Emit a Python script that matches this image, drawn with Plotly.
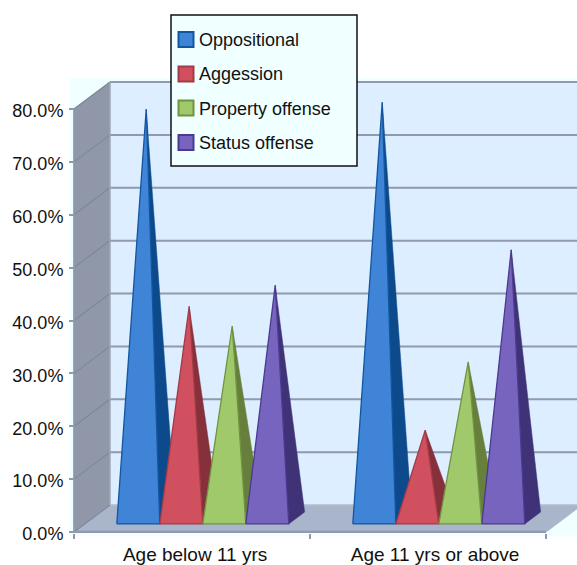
import plotly.graph_objects as go

# ---- data (percent) ----
categories = ["Age below 11 yrs", "Age 11 yrs or above"]
series_names = ["Oppositional", "Aggession", "Property offense", "Status offense"]
oppositional = [77.3, 78.6]
aggression = [40.0, 16.6]
property_offense = [36.3, 29.5]
status_offense = [44.0, 50.7]
y_ticks = [0, 10, 20, 30, 40, 50, 60, 70, 80]
y_labels = ["0.0%", "10.0%", "20.0%", "30.0%", "40.0%", "50.0%", "60.0%", "70.0%", "80.0%"]

# ---- styles ----
face = ["#3F84D6", "#D0505F", "#A0C96B", "#7764BF"]
side = ["#0C4A8C", "#86303B", "#667F3D", "#3F3276"]
edge = ["#12569F", "#A33A47", "#71933F", "#4B3A90"]
GRID = "#9199AE"
WALL = "#DCEEFF"
AZURE = "#F0FFFF"
SIDE_WALL = "#8F97A9"
FLOOR = "#A9B5CA"
FONT = "Liberation Sans"

W, H = 577, 565
PX_X0, PX_CAT = 74, 236          # category axis origin / category width
PX_Y0, PX_PCT = 532, 5.2875      # 0% position / pixels per percent
PLOT_BOTTOM = 533
DX, DY = 36 / PX_CAT, 27 / PX_PCT  # 3-D depth in axis units
Z0, Z1 = 0.30, 0.74              # depth span of the pyramids
BAR_W = 43 / PX_CAT

def proj(x, y, z=0):
    return x + z * DX, y + z * DY

fig = go.Figure()

def poly(points, fill, line=None, lw=1):
    xs, ys = zip(*points)
    fig.add_trace(go.Scatter(
        x=list(xs) + [xs[0]], y=list(ys) + [ys[0]], mode="lines", fill="toself",
        fillcolor=fill, line=dict(color=line or fill, width=lw),
        hoverinfo="skip", showlegend=False))

def seg(a, b, color=GRID, lw=2):
    fig.add_trace(go.Scatter(x=[a[0], b[0]], y=[a[1], b[1]], mode="lines",
                             line=dict(color=color, width=lw),
                             hoverinfo="skip", showlegend=False))

XMAX = 2.25
top = y_ticks[-1]
# back wall, side wall, floor
poly([proj(0, 0, 1), proj(XMAX, 0, 1), proj(XMAX, top, 1), proj(0, top, 1)], WALL)
poly([proj(0, 0), proj(0, 0, 1), proj(0, top, 1), proj(0, top)], SIDE_WALL)
poly([proj(0, 0), proj(2, 0), proj(2, 0, 1), proj(XMAX, 0, 1), proj(0, 0, 1)], FLOOR)
for v in y_ticks:
    seg(proj(0, v), proj(0, v, 1), "#7E879B", 1.2)
    if v > 0:
        seg(proj(0, v, 1), proj(XMAX, v, 1), GRID, 2)
seg(proj(0, 0, 1), proj(XMAX, 0, 1), "#B6C1D4", 1)
seg(proj(0, 0), proj(0, top), GRID, 1.5)
seg(proj(0, 0, 1), proj(0, top, 1), "#A5ADBD", 1)
seg(proj(0, 0), proj(2, 0), GRID, 2.5)

# pyramids
values = [oppositional, aggression, property_offense, status_offense]
for c in range(len(categories)):
    for s in range(len(values)):
        left = c + 0.5 + (s - 2) * BAR_W
        right = left + BAR_W
        v = values[s][c]
        apex = proj((left + right) / 2, v, (Z0 + Z1) / 2)
        poly([proj(right, 0, Z0), proj(right, 0, Z1), apex], side[s], side[s], 0.5)
        poly([proj(left, 0, Z0), proj(right, 0, Z0), apex], face[s], edge[s], 1.3)

# legend entries: the text comes from the legend, keys sit just beneath it
for s, name in enumerate(series_names):
    fig.add_trace(go.Scatter(
        x=[None], y=[None], mode="markers", name=name, legendgroup=name,
        marker=dict(symbol="square", size=15, color="rgba(0,0,0,0)")))

def paper_rect(px0, py0, px1, py1, fill, line, lw):
    return dict(type="rect", xref="paper", yref="paper", layer="above",
                x0=px0 / W, x1=px1 / W, y0=1 - py1 / PLOT_BOTTOM, y1=1 - py0 / PLOT_BOTTOM,
                fillcolor=fill, line=dict(color=line, width=lw))

legend_box = paper_rect(171, 15, 357, 166, AZURE, "#111111", 1.5)
legend_keys = [paper_rect(178.5, cy - 7.5, 193.5, cy + 7.5, face[i], edge[i], 2)
               for i, cy in enumerate([39.5, 74, 108, 142.5])]
backdrop = dict(type="rect", xref="paper", yref="paper", layer="below",
                x0=70 / W, x1=1, y0=-3 / PLOT_BOTTOM, y1=1 - 78 / PLOT_BOTTOM,
                fillcolor=AZURE, line_width=0)

fig.update_layout(
    width=W, height=H, autosize=False,
    margin=dict(l=0, r=0, t=0, b=H - PLOT_BOTTOM, pad=0),
    paper_bgcolor="white", plot_bgcolor="white",
    font=dict(family=FONT, size=18, color="#111111"),
    xaxis=dict(range=[-PX_X0 / PX_CAT, (W - PX_X0) / PX_CAT], domain=[0, 1],
               tickmode="array", tickvals=[0.513, 1.53], ticktext=categories,
               tickfont=dict(size=19), ticklabelstandoff=8,
               ticks="", showgrid=False, zeroline=False, showline=False,
               minor=dict(tick0=0, dtick=1, ticks="outside", ticklen=5, tickcolor=GRID,
                          tickwidth=1.5, showgrid=False)),
    yaxis=dict(range=[(PX_Y0 - PLOT_BOTTOM) / PX_PCT, PX_Y0 / PX_PCT],
               anchor="free", position=PX_X0 / W,
               tickmode="array", tickvals=y_ticks, ticktext=y_labels,
               ticklabelstandoff=2, ticklabelshift=2,
               ticks="outside", ticklen=5, tickcolor=GRID, tickwidth=1.5,
               showgrid=False, zeroline=False, showline=False),
    shapes=[backdrop, legend_box] + legend_keys,
    legend=dict(x=159 / W, y=1 - 20.5 / PLOT_BOTTOM, xanchor="left", yanchor="top",
                bgcolor="rgba(0,0,0,0)", borderwidth=0,
                tracegroupgap=8, entrywidth=150, entrywidthmode="pixels",
                font=dict(family=FONT, size=18, color="#111111")),
    showlegend=True,
)

fig.write_html("out.html", config=dict(displayModeBar=False),
               post_script="document.body.style.margin='0';")
